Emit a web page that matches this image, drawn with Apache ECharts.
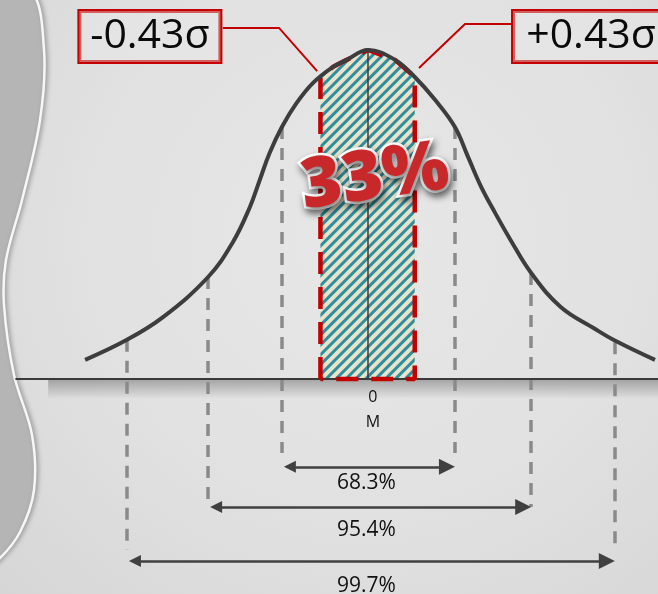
<!DOCTYPE html>
<html>
<head>
<meta charset="utf-8">
<script src="https://cdn.jsdelivr.net/npm/echarts@6/dist/echarts.min.js"></script>
<style>
  html, body { margin: 0; padding: 0; }
  #chart {
    width: 658px;
    height: 594px;
    background: radial-gradient(ellipse at 55% 40%, #e7e7e7 0%, #e1e1e1 55%, #d6d6d6 100%);
  }
</style>
</head>
<body>
<div id="chart"></div>
<script>
// bell curve: x in sigma units, y relative to the peak
const curveX = [-3.45, -2.94, -2.50, -1.95, -1.65, -1.44, -1.32, -1.20, -1.05, -0.87, -0.67, -0.43, -0.26, 0,
  0.33, 0.57, 0.82, 1.06, 1.22, 1.38, 1.55, 1.74, 1.99, 2.35, 2.77, 3.01, 3.50];
const curveY = [0.058, 0.119, 0.188, 0.310, 0.415, 0.523, 0.605, 0.687, 0.766, 0.839, 0.900, 0.948, 0.970, 1,
  0.970, 0.918, 0.848, 0.766, 0.675, 0.584, 0.505, 0.422, 0.322, 0.219, 0.152, 0.117, 0.058];

// hatched band (-0.43σ .. +0.43σ) under the curve
const bandX = [-0.58, -0.43, -0.26, 0, 0.33, 0.57];
const bandY = [0.915, 0.948, 0.970, 1, 0.970, 0.918];

// grey dashed sigma guides
const sigmaX = [-2.94, -1.95, -1.05, 1.06, 1.99, 3.01];
const sigmaTop = [0.119, 0.310, 0.766, 0.766, 0.322, 0.112];
const sigmaBottom = [-0.52, -0.389, -0.225, -0.225, -0.389, -0.52];

// range arrows
const rangeLabels = ['68.3%', '95.4%', '99.7%'];
const rangeFrom = [-1.05, -1.95, -2.94];
const rangeTo = [1.06, 1.99, 3.01];
const rangeArrowY = [-0.267, -0.389, -0.553];
const rangeLabelY = [-0.316, -0.459, -0.629];
const rangeLabelX = -0.02;

// mean label under the axis
const meanLabels = ['0', 'M'];
const meanLabelX = 0.06;
const meanLabelY = [-0.055, -0.131];

// callout boxes
const calloutText = ['-0.43σ', '+0.43σ'];
const calloutX = [-2.66, 2.72];
const calloutY = [1.041, 1.041];
const leftLeader = [[-1.77, 1.067], [-1.085, 1.067], [-0.62, 0.936]];
const rightLeader = [[1.756, 1.079], [1.183, 1.079], [0.622, 0.945]];

const shareText = '33%';
const shareX = 0.085;
const shareY = 0.61;

// pixel layout of the value axes
const W = 658, H = 594;
const CENTER_PX = 368, UNIT_PX = 82, BASE_PX = 379, PEAK_PX = 329;
const ARROW_LEN = 16, ARROW_W = 12;

const zip = (xs, ys) => xs.map((x, i) => [x, ys[i]]);
const curveData = zip(curveX, curveY);
const bandData = zip(bandX, bandY);
const outline = [[bandX[0], 0]].concat(bandData, [[bandX[bandX.length - 1], 0], [bandX[0], 0]]);
// triangles are centred on the line ends, pull them in so the tips sit on the guides
const tipShift = ARROW_LEN / 2 / UNIT_PX;

const chart = echarts.init(document.getElementById('chart'));

const textFont = '"Open Sans", "Noto Sans", sans-serif';

// plain text marks: invisible scatter points carrying a label
const textSeries = (name, items, label, z) => ({
  name,
  type: 'scatter',
  symbolSize: 0,
  silent: true,
  z,
  itemStyle: { opacity: 1 },
  label: Object.assign({
    show: true,
    position: 'inside',
    formatter: '{b}',
    fontFamily: textFont,
    opacity: 1,
    textBorderWidth: 0
  }, label),
  data: items
});

const option = {
  animation: false,
  backgroundColor: 'transparent',
  grid: { left: 0, right: 0, top: 0, bottom: 0 },
  xAxis: {
    type: 'value',
    min: -CENTER_PX / UNIT_PX,
    max: (W - CENTER_PX) / UNIT_PX,
    show: false
  },
  yAxis: {
    type: 'value',
    min: (BASE_PX - H) / PEAK_PX,
    max: BASE_PX / PEAK_PX,
    show: false
  },
  graphic: [
    {
      // decorative slab on the left edge
      type: 'polygon',
      z: -1,
      shape: {
        smooth: 0.35,
        points: [[-20, -10], [30, -10], [44, 50], [40, 120], [22, 200], [6, 260], [4, 305],
          [14, 375], [32, 435], [34, 490], [20, 532], [-2, 560], [-20, 570]]
      },
      style: {
        fill: '#b5b5b5',
        stroke: '#f7f7f7',
        lineWidth: 2.5,
        shadowBlur: 5,
        shadowColor: 'rgba(0,0,0,0.25)',
        shadowOffsetX: 2
      }
    }
  ],
  series: [
    {
      name: 'baseline',
      type: 'line',
      data: [[-4.3, 0], [(W - CENTER_PX) / UNIT_PX, 0]],
      symbol: 'none',
      silent: true,
      z: 3,
      lineStyle: { color: '#3a3a3a', width: 2 },
      markArea: {
        silent: true,
        itemStyle: {
          color: {
            type: 'linear', x: 0, y: 0, x2: 0, y2: 1,
            colorStops: [
              { offset: 0, color: 'rgba(0,0,0,0.28)' },
              { offset: 1, color: 'rgba(0,0,0,0)' }
            ]
          }
        },
        data: [[{ coord: [-3.9, 0] }, { coord: [3.54, -0.06] }]]
      }
    },
    {
      name: 'band',
      type: 'line',
      data: bandData,
      smooth: 0.3,
      symbol: 'none',
      silent: true,
      z: 2,
      lineStyle: { width: 0 },
      itemStyle: {
        color: '#e8e4cb',
        decal: {
          symbol: 'rect',
          symbolSize: 1,
          color: '#2f8d9e',
          backgroundColor: '#e8e4cb',
          dashArrayX: [1, 0],
          dashArrayY: [2.5, 3.2],
          rotation: -Math.PI / 4
        }
      },
      areaStyle: { color: '#e8e4cb', opacity: 1 }
    },
    {
      name: 'mean',
      type: 'lines',
      coordinateSystem: 'cartesian2d',
      silent: true,
      z: 4,
      lineStyle: { color: '#3a3a3a', width: 1.5, opacity: 1 },
      data: [{ coords: [[0, 0], [0, 1]] }]
    },
    {
      name: 'outline',
      type: 'line',
      data: outline,
      symbol: 'none',
      silent: true,
      z: 5,
      lineStyle: { color: '#c40000', width: 4.5, type: [22, 13] }
    },
    {
      name: 'curve',
      type: 'line',
      data: curveData,
      smooth: 0.4,
      symbol: 'none',
      silent: true,
      z: 6,
      lineStyle: { color: '#3d3d3d', width: 4 }
    },
    {
      name: 'sigma',
      type: 'lines',
      coordinateSystem: 'cartesian2d',
      silent: true,
      z: 3,
      lineStyle: { color: '#8a8a8a', width: 3.5, type: [12, 9], opacity: 1 },
      data: sigmaX.map((x, i) => ({ coords: [[x, sigmaTop[i]], [x, sigmaBottom[i]]] }))
    },
    {
      name: 'ranges',
      type: 'lines',
      coordinateSystem: 'cartesian2d',
      silent: true,
      z: 4,
      symbol: ['triangle', 'triangle'],
      symbolSize: [ARROW_W, ARROW_LEN],
      lineStyle: { color: '#404040', width: 2.5, opacity: 1 },
      data: rangeFrom.map((x, i) => ({
        coords: [[x + tipShift, rangeArrowY[i]], [rangeTo[i] - tipShift, rangeArrowY[i]]]
      }))
    },
    {
      name: 'leaders',
      type: 'lines',
      coordinateSystem: 'cartesian2d',
      polyline: true,
      silent: true,
      z: 7,
      lineStyle: { color: '#c40000', width: 2, opacity: 1 },
      data: [{ coords: leftLeader }, { coords: rightLeader }]
    },
    textSeries('rangeLabels',
      rangeLabels.map((t, i) => ({ name: t, value: [rangeLabelX, rangeLabelY[i]] })),
      { fontSize: 21, color: '#111' }, 8),
    textSeries('meanLabels',
      meanLabels.map((t, i) => ({ name: t, value: [meanLabelX, meanLabelY[i]] })),
      { fontSize: 16, color: '#111' }, 8),
    textSeries('callouts',
      calloutText.map((t, i) => ({
        name: t,
        value: [calloutX[i], calloutY[i]],
        label: i === 1 ? { width: 156 } : {}
      })),
      {
        fontSize: 41,
        color: '#0a0a0a',
        width: 141,
        align: 'center',
        lineHeight: 47,
        padding: [2, 0],
        backgroundColor: 'rgba(236,236,236,0.4)',
        borderColor: '#c40000',
        borderWidth: 2
      }, 8),
    textSeries('share',
      [{ name: shareText, value: [shareX, shareY] }],
      {
        rotate: 8,
        fontWeight: 800,
        fontSize: 70,
        color: '#c9282a',
        textBorderColor: '#ffffff',
        textBorderWidth: 5,
        textShadowColor: 'rgba(0,0,0,0.5)',
        textShadowBlur: 7,
        textShadowOffsetX: 2,
        textShadowOffsetY: 4
      }, 9)
  ]
};

chart.setOption(option);
window.addEventListener('resize', () => chart.resize());
</script>
</body>
</html>
